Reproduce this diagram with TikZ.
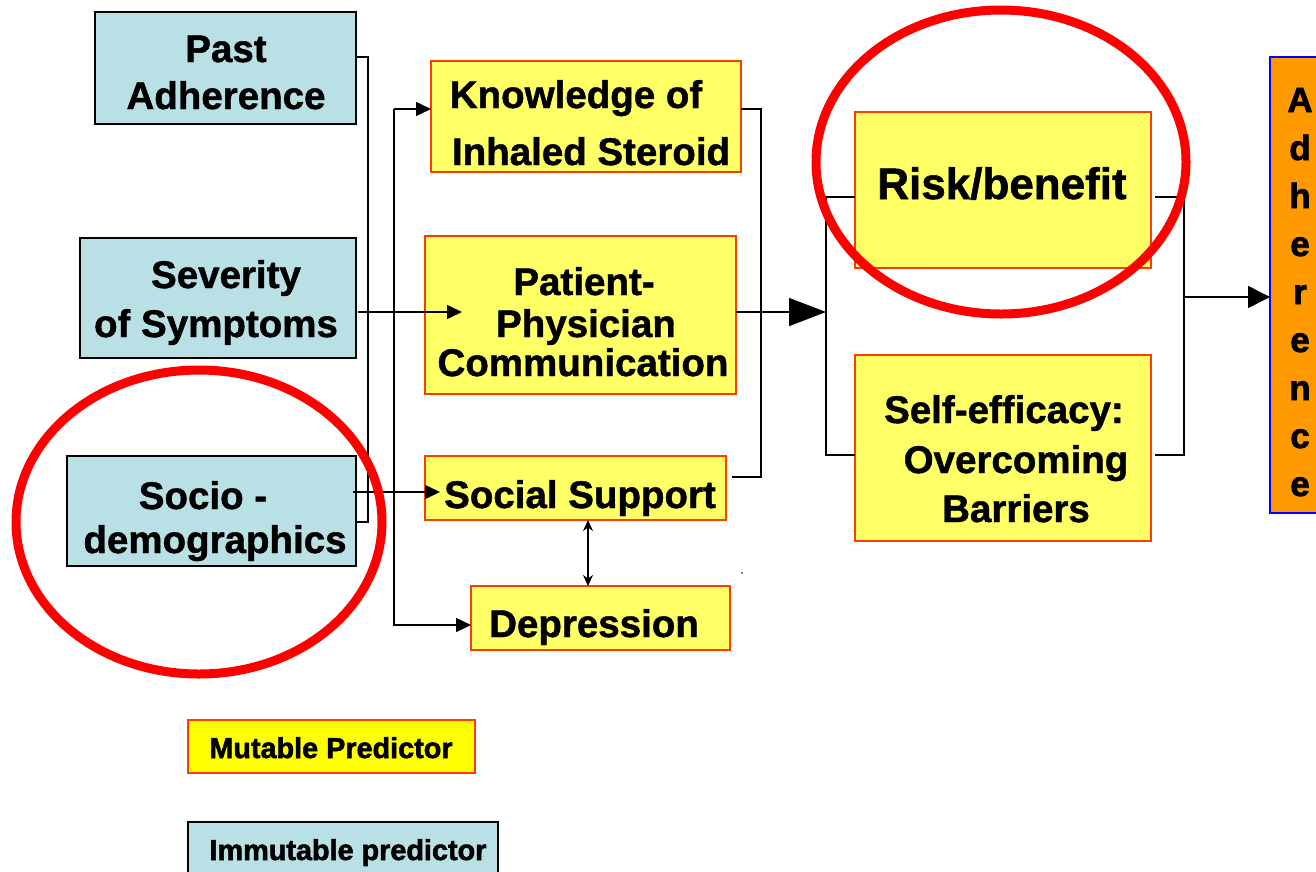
\documentclass[tikz,border=0pt]{standalone}
\usepackage{fontspec}
\setmainfont{Liberation Sans}
\newfontfamily\heavy{Liberation Sans}[BoldFeatures={FakeBold=1.2}]
\newfontfamily\heavier{Liberation Sans}[BoldFeatures={FakeBold=2}]
\usetikzlibrary{arrows.meta}
\definecolor{teal}{RGB}{185,224,228}
\definecolor{ylw}{RGB}{255,255,102}
\definecolor{ylwB}{RGB}{255,255,0}
\definecolor{redB}{RGB}{255,60,0}
\definecolor{orng}{RGB}{255,153,0}
\definecolor{ring}{RGB}{255,0,0}
\tikzset{
  tbox/.style={draw=black, line width=1.5pt, fill=teal, anchor=north west, inner sep=0pt, outer sep=0pt},
  ybox/.style={draw=redB, line width=1.2pt, fill=ylw, anchor=north west, inner sep=0pt, outer sep=0pt},
  txt/.style={anchor=base, inner sep=0pt, font=\heavy\fontsize{38.5}{46}\selectfont\bfseries},
  bigtxt/.style={anchor=base, inner sep=0pt, font=\heavy\fontsize{44}{52}\selectfont\bfseries},
  legtxt/.style={anchor=base, inner sep=0pt, font=\heavier\fontsize{28.8}{34}\selectfont\bfseries},
  lettxt/.style={anchor=base, inner sep=0pt, font=\heavier\fontsize{35}{42}\selectfont\bfseries},
  conn/.style={draw=black, line width=1.5pt},
  sarr/.style={conn, -{Triangle[length=15pt,width=14pt]}},
  ring/.style={draw=ring, line width=9pt}
}
\begin{document}
\begin{tikzpicture}[x=1pt,y=-1pt]
\useasboundingbox (0,0) rectangle (1316,871);
\clip (0,0) rectangle (1316,871);
\fill[white] (0,0) rectangle (1316,871);
% immutable boxes
\node[tbox, minimum width=261pt, minimum height=112pt] (past) at (95,12) {};
\node[tbox, minimum width=276pt, minimum height=120pt] (sev) at (80,238) {};
\node[tbox, minimum width=289pt, minimum height=110pt] (socio) at (67,456) {};
% mutable boxes
\node[ybox, minimum width=310pt, minimum height=111pt] (know) at (431,61) {};
\node[ybox, minimum width=311pt, minimum height=158pt] (pat) at (425,236) {};
\node[ybox, minimum width=301pt, minimum height=64pt] (soc) at (425,456) {};
\node[ybox, minimum width=259pt, minimum height=64pt] (dep) at (471,586) {};
\node[ybox, minimum width=296pt, minimum height=156pt] (risk) at (855,112) {};
\node[ybox, minimum width=296pt, minimum height=186pt] (self) at (855,355) {};
\node[draw=blue, line width=1.2pt, fill=orng, anchor=north west, minimum width=70pt, minimum height=456pt, inner sep=0pt, outer sep=0pt] (adh) at (1270,57) {};
% legend
\node[draw=redB, line width=1.2pt, fill=ylwB, anchor=north west, minimum width=287pt, minimum height=53pt, inner sep=0pt, outer sep=0pt] (legm) at (188,720) {};
\node[tbox, minimum width=310pt, minimum height=70pt] (legi) at (188,822) {};
% texts
\node[txt] (t1) at (226,62) {Past};
\node[txt] (t2) at (226,109) {Adherence};
\node[txt] (t3) at (226,288) {Severity};
\node[txt] (t4) at (216,337) {of Symptoms};
\node[txt] (t5) at (203,509) {Socio -};
\node[txt] (t6) at (215,553) {demographics};
\node[txt] (t7) at (576,108) {Knowledge of};
\node[txt] (t8) at (591,165) {Inhaled Steroid};
\node[txt] (t9) at (584,295) {Patient-};
\node[txt] (t10) at (586,337) {Physician};
\node[txt] (t11) at (583,376) {Communication};
\node[txt] (t12) at (580,508) {Social Support};
\node[txt] (t13) at (594,637) {Depression};
\node[bigtxt] (t14) at (1002,199) {Risk/benefit};
\node[txt] (t15) at (1004,423) {Self-efficacy:};
\node[txt] (t16) at (1016,473) {Overcoming};
\node[txt] (t17) at (1016,522) {Barriers};
\node[legtxt] (t18) at (331,758) {Mutable Predictor};
\node[legtxt] (t19) at (348,860) {Immutable predictor};
\foreach \l [count=\i from 0] in {A,d,h,e,r,e,n,c,e}
  \node[lettxt] (a\i) at (1300,112+48*\i) {\l};
% coordinates for bracket connectors
\coordinate (lb1) at (368,57);
\coordinate (lb2) at (368,522);
\coordinate (vb1) at (394,109);
\coordinate (vb2) at (394,625);
\coordinate (mb1) at (761,109);
\coordinate (mb2) at (761,477);
\coordinate (mc1) at (826,197);
\coordinate (mc2) at (826,455);
\coordinate (mcm) at (826,312);
\coordinate (rb1) at (1184,197);
\coordinate (rb2) at (1184,455);
\coordinate (rbm) at (1184,297);
% left bracket
\draw[conn] (past.east |- lb1) -- (lb1) -- (lb2) -- (socio.east |- lb2);
% vertical distributor
\draw[sarr] (vb1) -- (know.west |- vb1);
\draw[sarr] (vb1) -- (vb2) -- (dep.west |- vb2);
\draw[sarr] (358,312) coordinate (s0) -- (462,312) coordinate (s1);
\draw[sarr] (353,492) coordinate (o0) -- (440,492) coordinate (o1);
% double arrow
\draw[conn, {Stealth[length=11pt,width=10pt]}-{Stealth[length=11pt,width=10pt]}] (soc.south -| 588,0) -- (dep.north -| 588,0);
% middle bracket
\draw[conn] (know.east |- mb1) -- (mb1) -- (mb2) -- (732,477) coordinate (mb3);
\draw[conn, -{Triangle[length=37pt,width=28pt]}] (pat.east |- mcm) -- (mcm);
\draw[conn] (risk.west |- mc1) -- (mc1) -- (mc2) -- (self.west |- mc2);
% right bracket
\draw[conn] (1155,197) coordinate (r0) -- (rb1) -- (rb2) -- (1155,455) coordinate (r1);
\draw[conn, -{Triangle[length=22pt,width=22pt]}] (rbm) -- (adh.west |- rbm);
% tiny dot
\fill[black] (742,573) circle (0.9pt);
% red rings
\draw[ring] (1001,162) ellipse [x radius=185, y radius=152];
\draw[ring] (199,522) ellipse [x radius=183, y radius=152];
\end{tikzpicture}
\end{document}
